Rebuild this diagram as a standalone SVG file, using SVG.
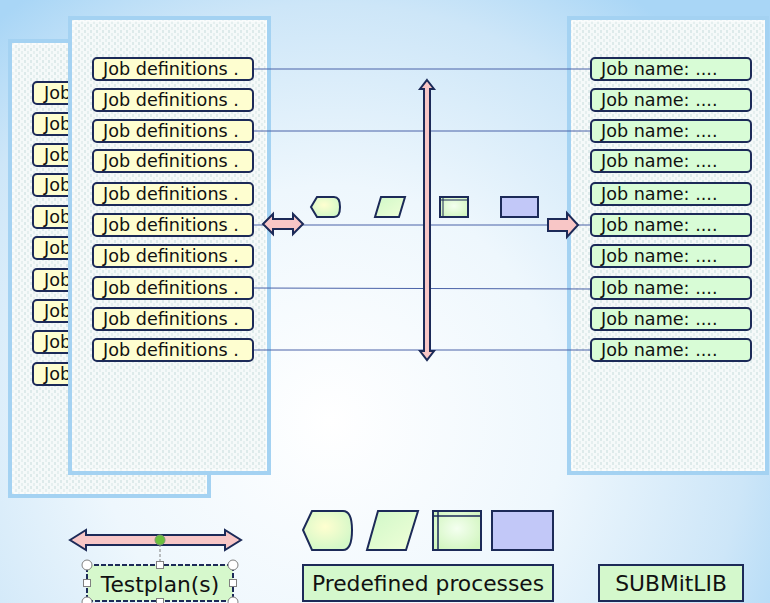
<svg xmlns="http://www.w3.org/2000/svg" width="770" height="603" viewBox="0 0 770 603">
<defs>
<radialGradient id="bg" cx="330" cy="420" r="520" gradientUnits="userSpaceOnUse">
<stop offset="0" stop-color="#ffffff"/>
<stop offset="0.45" stop-color="#eef7fd"/>
<stop offset="0.8" stop-color="#cde6f8"/>
<stop offset="1" stop-color="#a9d6f6"/>
</radialGradient>
<pattern id="dots" width="6" height="6" patternUnits="userSpaceOnUse">
<rect width="6" height="6" fill="#f5f9f9"/>
<line x1="1" y1="0" x2="1" y2="3" stroke="#c6dcdc" stroke-width="1"/>
<line x1="4" y1="3" x2="4" y2="6" stroke="#d6e6e6" stroke-width="1"/>
</pattern>
<radialGradient id="yg" cx="0.45" cy="0.4" r="0.6">
<stop offset="0" stop-color="#ffffd0"/>
<stop offset="1" stop-color="#d4f8c8"/>
</radialGradient>
<radialGradient id="gg" cx="0.5" cy="0.45" r="0.6">
<stop offset="0" stop-color="#f4fff0"/>
<stop offset="1" stop-color="#d2f6c0"/>
</radialGradient>
<linearGradient id="pg" x1="0" y1="0" x2="1" y2="1">
<stop offset="0" stop-color="#d0f8c8"/>
<stop offset="1" stop-color="#f0ffd8"/>
</linearGradient>
</defs>
<style>
.panel{fill:url(#dots);stroke:#a4d2f2;stroke-width:4}
.panelin{fill:none;stroke:#ffffff;stroke-width:1}
.jd{fill:#fefed0;stroke:#1c2a58;stroke-width:2}
.jn{fill:#d8fcd6;stroke:#1c2a58;stroke-width:2}
.t{font-family:"DejaVu Sans",Verdana,sans-serif;font-size:17.6px;fill:#111111}
.tb{font-family:"DejaVu Sans",Verdana,sans-serif;font-size:21.8px;fill:#111111}
.arr{fill:#f8c6c6;stroke:#1c2a58;stroke-width:2;stroke-linejoin:miter}
.shp{stroke:#1c2a58;stroke-width:2}
.conn{stroke:#4a62a8;stroke-width:1;fill:none}
.lbl{fill:#d4f8cc;stroke:#1c2a58;stroke-width:2}
.hdl{fill:#ffffff;stroke:#808080;stroke-width:1}
</style>
<rect x="0" y="0" width="770" height="603" fill="url(#bg)"/>

<g id="back-panel">
<rect class="panel" x="10" y="41" width="199" height="455"/>
<rect class="panelin" x="13" y="44" width="193" height="449"/>
<g>
<rect class="jd" x="33" y="82" width="60" height="22" rx="4"/><text class="t" x="44" y="99">Job</text>
<rect class="jd" x="33" y="113" width="60" height="22" rx="4"/><text class="t" x="44" y="130">Job</text>
<rect class="jd" x="33" y="144" width="60" height="22" rx="4"/><text class="t" x="44" y="161">Job</text>
<rect class="jd" x="33" y="174" width="60" height="22" rx="4"/><text class="t" x="44" y="191">Job</text>
<rect class="jd" x="33" y="206" width="60" height="22" rx="4"/><text class="t" x="44" y="223">Job</text>
<rect class="jd" x="33" y="237" width="60" height="22" rx="4"/><text class="t" x="44" y="254">Job</text>
<rect class="jd" x="33" y="269" width="60" height="22" rx="4"/><text class="t" x="44" y="286">Job</text>
<rect class="jd" x="33" y="300" width="60" height="22" rx="4"/><text class="t" x="44" y="317">Job</text>
<rect class="jd" x="33" y="331" width="60" height="22" rx="4"/><text class="t" x="44" y="348">Job</text>
<rect class="jd" x="33" y="363" width="60" height="22" rx="4"/><text class="t" x="44" y="380">Job</text>
</g>
</g>

<g id="front-panel">
<rect class="panel" x="70" y="18" width="199" height="455"/>
<rect class="panelin" x="73" y="21" width="193" height="449"/>
</g>

<g id="right-panel">
<rect class="panel" x="569" y="18" width="198" height="455"/>
<rect class="panelin" x="572" y="21" width="192" height="449"/>
</g>

<g id="connectors">
<line class="conn" x1="253" y1="69" x2="591" y2="69"/>
<line class="conn" x1="253" y1="131" x2="591" y2="131"/>
<line class="conn" x1="253" y1="225" x2="591" y2="225"/>
<line class="conn" x1="253" y1="288" x2="591" y2="289"/>
<line class="conn" x1="253" y1="350" x2="591" y2="350"/>
</g>

<g id="job-definitions">
<rect class="jd" x="93" y="58" width="160" height="22" rx="4"/><text class="t" x="103" y="75">Job definitions .</text>
<rect class="jd" x="93" y="89" width="160" height="22" rx="4"/><text class="t" x="103" y="106">Job definitions .</text>
<rect class="jd" x="93" y="120" width="160" height="22" rx="4"/><text class="t" x="103" y="137">Job definitions .</text>
<rect class="jd" x="93" y="150" width="160" height="22" rx="4"/><text class="t" x="103" y="167">Job definitions .</text>
<rect class="jd" x="93" y="183" width="160" height="22" rx="4"/><text class="t" x="103" y="200">Job definitions .</text>
<rect class="jd" x="93" y="214" width="160" height="22" rx="4"/><text class="t" x="103" y="231">Job definitions .</text>
<rect class="jd" x="93" y="245" width="160" height="22" rx="4"/><text class="t" x="103" y="262">Job definitions .</text>
<rect class="jd" x="93" y="277" width="160" height="22" rx="4"/><text class="t" x="103" y="294">Job definitions .</text>
<rect class="jd" x="93" y="308" width="160" height="22" rx="4"/><text class="t" x="103" y="325">Job definitions .</text>
<rect class="jd" x="93" y="339" width="160" height="22" rx="4"/><text class="t" x="103" y="356">Job definitions .</text>
</g>

<g id="job-names">
<rect class="jn" x="591" y="58" width="160" height="22" rx="4"/><text class="t" x="601" y="75">Job name: ....</text>
<rect class="jn" x="591" y="89" width="160" height="22" rx="4"/><text class="t" x="601" y="106">Job name: ....</text>
<rect class="jn" x="591" y="120" width="160" height="22" rx="4"/><text class="t" x="601" y="137">Job name: ....</text>
<rect class="jn" x="591" y="150" width="160" height="22" rx="4"/><text class="t" x="601" y="167">Job name: ....</text>
<rect class="jn" x="591" y="183" width="160" height="22" rx="4"/><text class="t" x="601" y="200">Job name: ....</text>
<rect class="jn" x="591" y="214" width="160" height="22" rx="4"/><text class="t" x="601" y="231">Job name: ....</text>
<rect class="jn" x="591" y="245" width="160" height="22" rx="4"/><text class="t" x="601" y="262">Job name: ....</text>
<rect class="jn" x="591" y="277" width="160" height="22" rx="4"/><text class="t" x="601" y="294">Job name: ....</text>
<rect class="jn" x="591" y="308" width="160" height="22" rx="4"/><text class="t" x="601" y="325">Job name: ....</text>
<rect class="jn" x="591" y="339" width="160" height="22" rx="4"/><text class="t" x="601" y="356">Job name: ....</text>
</g>

<g id="vertical-arrow">
<path class="arr" d="M427,80 L434,89 L430,89 L430,351 L434,351 L427,360 L420,351 L424,351 L424,89 L420,89 Z"/>
</g>

<g id="left-double-arrow">
<path class="arr" d="M263,224 L273,214 L273,219 L293,219 L293,214 L303,224 L293,234 L293,229 L273,229 L273,234 Z"/>
</g>

<g id="right-arrow">
<path class="arr" d="M548,219 L567,219 L567,213 L578,225 L567,237 L567,231 L548,231 Z"/>
</g>

<g id="small-shapes">
<path class="shp" fill="url(#yg)" d="M317,197 L334,197 Q340,197 340,207 Q340,217 334,217 L317,217 L311,207 Z"/>
<path class="shp" fill="url(#pg)" d="M381,197 L405,197 L399,217 L375,217 Z"/>
<rect class="shp" fill="url(#gg)" x="440" y="197" width="28" height="20"/>
<line x1="443" y1="198" x2="443" y2="216" stroke="#1c2a58" stroke-width="1"/>
<line x1="441" y1="200" x2="467" y2="200" stroke="#1c2a58" stroke-width="1"/>
<rect class="shp" fill="#c2c8f8" x="501" y="197" width="37" height="20"/>
</g>

<g id="testplan-arrow">
<path class="arr" d="M70,540 L86,530 L86,535 L225,535 L225,530 L241,540 L225,550 L225,545 L86,545 L86,550 Z"/>
<line x1="160" y1="544" x2="160" y2="565" stroke="#808080" stroke-width="1" stroke-dasharray="3,2"/>
<circle cx="160" cy="540" r="5" fill="#6cc03c" stroke="#7a9a70" stroke-width="1"/>
</g>

<g id="testplan">
<rect x="87" y="565" width="146" height="36" fill="#d6f8cc" stroke="#1c2a58" stroke-width="2" stroke-dasharray="5,2"/>
<text class="tb" x="160" y="592" text-anchor="middle">Testplan(s)</text>
<circle class="hdl" cx="87" cy="565" r="5"/>
<circle class="hdl" cx="233" cy="565" r="5"/>
<circle class="hdl" cx="87" cy="602" r="5"/>
<circle class="hdl" cx="233" cy="602" r="5"/>
<rect class="hdl" x="156.5" y="561.5" width="7" height="7"/>
<rect class="hdl" x="83.5" y="579.5" width="7" height="7"/>
<rect class="hdl" x="229.5" y="579.5" width="7" height="7"/>
<rect class="hdl" x="156.5" y="598.5" width="7" height="7"/>
</g>

<g id="predefined-shapes">
<path class="shp" fill="url(#yg)" d="M312,511 L343,511 Q352,511 352,530 Q352,550 343,550 L312,550 L303,530 Z"/>
<path class="shp" fill="url(#pg)" d="M378,511 L418,511 L406,550 L367,550 Z"/>
<rect class="shp" fill="url(#gg)" x="433" y="511" width="48" height="39"/>
<line x1="438" y1="512" x2="438" y2="549" stroke="#1c2a58" stroke-width="1.5"/>
<line x1="434" y1="516" x2="480" y2="516" stroke="#1c2a58" stroke-width="1.5"/>
<rect class="shp" fill="#c2c8f8" x="492" y="511" width="61" height="39"/>
</g>

<g id="predefined-processes">
<rect class="lbl" x="303" y="565" width="250" height="36" fill="url(#pg)"/>
<text class="tb" x="428" y="591" text-anchor="middle">Predefined processes</text>
</g>

<g id="submitlib">
<rect class="lbl" x="599" y="565" width="144" height="36"/>
<text class="tb" x="671" y="591" text-anchor="middle">SUBMitLIB</text>
</g>
</svg>
